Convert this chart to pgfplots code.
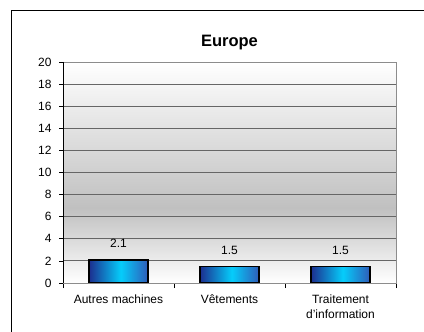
\documentclass[border=0pt]{standalone}
\usepackage{pgfplots}
\pgfplotsset{compat=1.18}
\usepackage{fontspec}
\setmainfont{Liberation Sans}
\definecolor{dkb}{HTML}{1C2E8F}
\definecolor{cyn}{HTML}{05CDFB}
\definecolor{dkb2}{HTML}{2F5CB8}
\definecolor{bggray}{HTML}{C0C0C0}
\pgfdeclarehorizontalshading{barshade}{100bp}{color(0bp)=(dkb); color(25bp)=(dkb); color(52bp)=(cyn); color(75bp)=(dkb2); color(100bp)=(dkb2)}
\pgfdeclareverticalshading{bgshade}{100bp}{color(0bp)=(white); color(25bp)=(white); color(42bp)=(bggray); color(75bp)=(white); color(100bp)=(white)}
\pgfplotsset{
  mybar/.style={ybar, bar width=0.53, bar shift=0, draw=black, line width=1.5bp, shading=barshade,
    nodes near coords,
    nodes near coords style={font=\fontsize{12bp}{14bp}\selectfont, yshift=8bp, text=black}},
}
\begin{document}
\begin{tikzpicture}
\useasboundingbox (0,0) rectangle (424bp,332bp);
\draw[line width=1bp] (11bp,0) -- (11bp,321bp) -- (424bp,321bp);
\begin{axis}[
  at={(63bp,49bp)}, anchor=south west,
  scale only axis, width=333bp, height=221bp,
  xmin=-0.5, xmax=2.5, ymin=0, ymax=20,
  ytick={0,2,...,20},
  xtick={0,1,2},
  xticklabels={Autres machines, Vêtements, {Traitement\\d'information}},
  minor xtick={-0.5,0.5,1.5,2.5},
  xtick pos=bottom, ytick pos=left,
  tick align=outside,
  major tick length=4bp, minor tick length=5bp,
  major x tick style={draw=none},
  minor x tick style={draw=black, line width=0.6bp},
  y tick style={draw=black, line width=0.6bp},
  ymajorgrids,
  major grid style={draw=black!60, line width=0.8bp},
  axis line style={draw=gray!90, line width=0.8bp},
  axis background/.style={shading=bgshade},
  /pgf/number format/assume math mode=true,
  tick label style={font=\fontsize{12bp}{15.5bp}\selectfont},
  xticklabel style={align=center, yshift=-4bp},
  yticklabel style={xshift=-4bp},
  title={Europe},
  title style={font=\fontsize{16.5bp}{18bp}\selectfont\bfseries, anchor=base, yshift=9.5bp},
]
\addplot[mybar] coordinates {(0,2.1)};
\addplot[mybar] coordinates {(1,1.5)};
\addplot[mybar] coordinates {(2,1.5)};
\draw[black, line width=0.8bp] (rel axis cs:0,1) -- (rel axis cs:0,0) -- (rel axis cs:1,0);
\end{axis}
\end{tikzpicture}
\end{document}
